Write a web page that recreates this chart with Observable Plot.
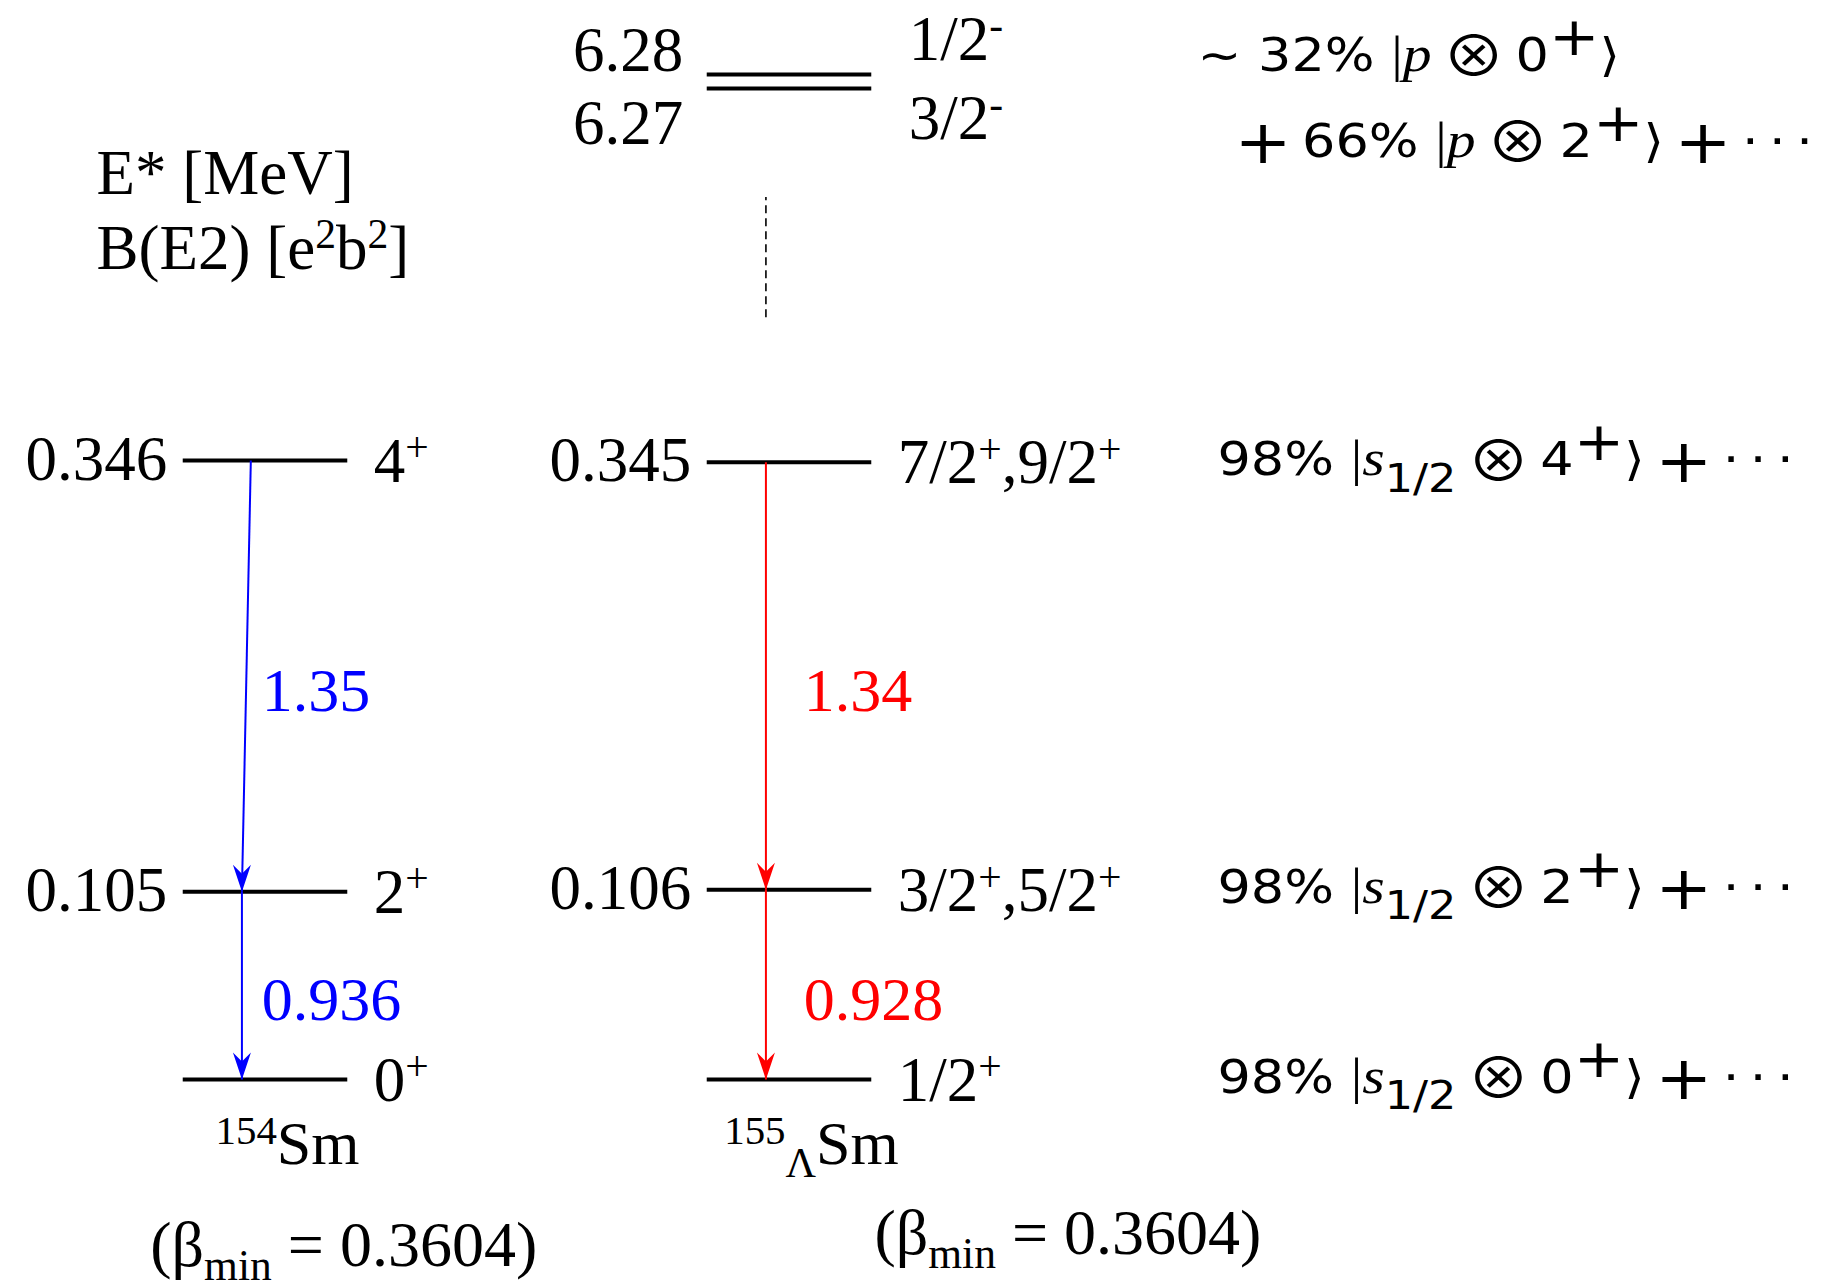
<!DOCTYPE html>
<html>
<head>
<meta charset="utf-8">
<script src="https://cdn.jsdelivr.net/npm/d3@7"></script>
<script src="https://cdn.jsdelivr.net/npm/@observablehq/plot@0.6"></script>
<style>
  body { margin: 0; background: #fff; }
  svg text { white-space: pre; }
</style>
</head>
<body>
<div id="chart"></div>
<script>
// ---------------- data ----------------
const nucleusLabels = ["^{154}Sm", "^{155}_{Λ}Sm"];
const betaMin = ["0.3604", "0.3604"];
const levelNucleus = [0, 0, 0, 1, 1, 1, 1, 1];
const levelEnergy  = [0, 0.105, 0.346, 0, 0.106, 0.345, 6.27, 6.28];
const levelSpin    = ["0^{+}", "2^{+}", "4^{+}", "1/2^{+}", "3/2^{+},5/2^{+}", "7/2^{+},9/2^{+}", "3/2^{-}", "1/2^{-}"];
const levelConfig  = [null, null, null,
  "98% !{|}*{s}_{1/2}\u2009#{⊗}\u20090^{+}⟩\u2009#{+}\u2009·\u2009·\u2009·",
  "98% !{|}*{s}_{1/2}\u2009#{⊗}\u20092^{+}⟩\u2009#{+}\u2009·\u2009·\u2009·",
  "98% !{|}*{s}_{1/2}\u2009#{⊗}\u20094^{+}⟩\u2009#{+}\u2009·\u2009·\u2009·",
  "#{+}\u200966% !{|}*{p}\u2009#{⊗}\u20092^{+}⟩\u2009#{+}\u2009·\u2009·\u2009·",
  "∼ 32% !{|}*{p}\u2009#{⊗}\u20090^{+}⟩"];
const transFrom = [2, 1, 5, 4];
const transTo   = [1, 0, 4, 3];
const transBE2  = [1.35, 0.936, 1.34, 0.928];
const headerLines = ["E* [MeV]", "B(E2) [e^{2}b^{2}]"];

// ---------------- style / layout ----------------
const nucleusColor = ["#0000ff", "#ff0000"];
const hw = 0.157;            // half width of a level line (x units)
const arrowShift = -0.045;   // arrows sit left of the level centre
const arrowTopSlant = [0.017, 0, 0, 0];
const be2LabelShift = [0.038, 0.072];
const energyDy = {single: 19, upper: -4, lower: 55};
const energyDx = {single: -16, upper: -24, lower: -24};
const spinDy   = {single: 21, upper: -15, lower: 50};
const spinDx   = {single: 26, upper: 37, lower: 37};
const configDy = {single: 13, upper: -4, lower: 68};
const configDx = {single: -96, upper: -116, lower: -79};
const configStretch = 1.14;
const betaDx = [-0.22, 0.162];
const betaDy = [186, 174];
const serif = "Liberation Serif";
const sans = "DejaVu Sans";

// ---------------- derived ----------------
const levels = levelEnergy.map((E, i) => ({i, n: levelNucleus[i], E, spin: levelSpin[i], config: levelConfig[i]}));
levels.forEach(l => {
  const near = levels.filter(o => o !== l && o.n === l.n && Math.abs(o.E - l.E) < 0.05);
  l.pos = near.some(o => o.E < l.E) ? "upper" : near.some(o => o.E > l.E) ? "lower" : "single";
});
const trans = transFrom.map((f, k) => ({k, from: levels[f], to: levels[transTo[k]], be2: transBE2[k], n: levels[f].n}));

const lowTop = d3.max(levelEnergy.filter(e => e < 1));
const highBottom = d3.min(levelEnergy.filter(e => e > 1));
const highTop = d3.max(levelEnergy);
const breakNuclei = [...new Set(levels.filter(l => l.E > 1).map(l => l.n))];
const dashFrac = [0.384, 0.707];

const pos = ["single", "upper", "lower"];
const marks = [];

// level lines
marks.push(Plot.ruleY(levels, {y: "E", x1: d => d.n - hw, x2: d => d.n + hw, stroke: "black", strokeWidth: 4}));

// break indicator
marks.push(Plot.ruleX(breakNuclei, {
  x: d => d + arrowShift,
  y1: () => lowTop + dashFrac[0] * (highBottom - lowTop),
  y2: () => lowTop + dashFrac[1] * (highBottom - lowTop),
  stroke: "black", strokeWidth: 1.6, strokeDasharray: "8,5"
}));

// labels per position group
for (const p of pos) {
  const grp = levels.filter(l => l.pos === p);
  marks.push(Plot.text(grp.filter(l => l.E > 0), {
    x: d => d.n - hw, y: "E", text: d => String(d.E),
    textAnchor: "end", lineAnchor: "bottom", dx: energyDx[p], dy: energyDy[p], fontSize: 63, fill: "black"
  }));
  marks.push(Plot.text(grp, {
    x: d => d.n + hw, y: "E", text: "spin",
    textAnchor: "start", lineAnchor: "bottom", dx: spinDx[p], dy: spinDy[p], fontSize: 63, fill: "black"
  }));
  marks.push(Plot.text(grp.filter(l => l.config), {
    x: () => 2, y: "E", text: "config",
    textAnchor: "start", lineAnchor: "bottom", dx: configDx[p], dy: configDy[p],
    fontSize: 46, fontFamily: sans, fill: "black"
  }));
}

// transitions
const arrowHead = {
  draw(ctx) {
    ctx.moveTo(0, 0);
    ctx.lineTo(-9, -27);
    ctx.lineTo(0, -18);
    ctx.lineTo(9, -27);
    ctx.closePath();
  }
};
marks.push(Plot.link(trans, {
  x1: d => d.n + arrowShift + arrowTopSlant[d.k], y1: d => d.from.E,
  x2: d => d.n + arrowShift, y2: d => d.to.E,
  stroke: d => nucleusColor[d.n], strokeWidth: 2
}));
marks.push(Plot.dot(trans, {
  x: d => d.n + arrowShift, y: d => d.to.E, symbol: arrowHead,
  fill: d => nucleusColor[d.n], stroke: "none"
}));
marks.push(Plot.text(trans, {
  x: d => d.n + arrowShift + be2LabelShift[d.n], y: d => (d.from.E + d.to.E) / 2,
  text: d => String(d.be2), fill: d => nucleusColor[d.n],
  textAnchor: "start", lineAnchor: "middle", dy: 15, fontSize: 62
}));

// nucleus names and deformation
const nucl = nucleusLabels.map((t, n) => ({t, n}));
marks.push(Plot.text(nucl, {
  x: d => d.n + 0.042, y: () => 0, text: "t",
  textAnchor: "middle", lineAnchor: "bottom", dy: 84, fontSize: 62, fill: "black"
}));
nucl.forEach(d => {
  marks.push(Plot.text([d], {
    x: d => d.n + betaDx[d.n], y: () => 0, text: d => `(β_{min} = ${betaMin[d.n]})`,
    textAnchor: "start", lineAnchor: "bottom", dy: betaDy[d.n], fontSize: 64, fill: "black"
  }));
});

// header
marks.push(Plot.text([headerLines[0]], {frameAnchor: "top-left", text: d => d, textAnchor: "start", lineAnchor: "bottom", dx: 96, dy: 193, fontSize: 63, fill: "black"}));
marks.push(Plot.text([headerLines[1]], {frameAnchor: "top-left", text: d => d, textAnchor: "start", lineAnchor: "bottom", dx: 96, dy: 268, fontSize: 63, fill: "black"}));

const chart = Plot.plot({
  width: 1822,
  height: 1282,
  margin: 0,
  style: {fontFamily: serif, background: "white"},
  x: {type: "linear", domain: [0, 1], range: [265, 789], axis: null},
  y: {type: "linear", domain: [0, lowTop, highBottom, highTop], range: [1079, 460, 88, 74], axis: null},
  color: {type: "identity"},
  marks
});
document.getElementById("chart").appendChild(chart);

// rich text: ^{sup}, _{sub}, *{italic serif}, !{upright serif}, #{math operator}
function richify(svg) {
  const NS = "http://www.w3.org/2000/svg";
  svg.querySelectorAll("text").forEach(t => {
    const s = t.textContent;
    if (!/[\^_*!#]\{/.test(s)) return;
    const cs = getComputedStyle(t);
    const fs = parseFloat(cs.fontSize);
    const isSans = /Sans/.test(cs.fontFamily);
    const P = isSans ? {supSize: 1.15, supShift: 0.34, subSize: 0.85, subShift: 0.36}
                     : {supSize: 0.66, supShift: 0.32, subSize: 0.68, subShift: 0.22};
    t.textContent = "";
    let shift = 0;
    const re = /([\^_*!#])\{([^}]*)\}|([^\^_*!#]+|[\^_*!#])/g;
    let m;
    while ((m = re.exec(s))) {
      const ts = document.createElementNS(NS, "tspan");
      let target = 0, txt = m[3];
      if (m[1]) {
        txt = m[2];
        if (m[1] === "^") { target = -P.supShift * fs; ts.setAttribute("font-size", P.supSize * fs); }
        else if (m[1] === "_") { target = P.subShift * fs; ts.setAttribute("font-size", P.subSize * fs); }
        else if (m[1] === "*") { ts.setAttribute("font-family", serif); ts.setAttribute("font-style", "italic"); ts.setAttribute("font-size", 1.1 * fs); }
        else if (m[1] === "!") { ts.setAttribute("font-family", serif); ts.setAttribute("font-size", 1.1 * fs); }
        else if (txt === "+") { target = 0.14 * fs; ts.setAttribute("font-size", 1.3 * fs); }
        else { target = 0.12 * fs; ts.setAttribute("font-size", 1.2 * fs); ts.setAttribute("font-family", "Noto Sans CJK JP, DejaVu Sans"); }
      }
      if (target !== shift) ts.setAttribute("dy", target - shift);
      shift = target;
      ts.textContent = txt;
      t.appendChild(ts);
    }
    if (isSans) {
      const tr = t.getAttribute("transform") || "";
      t.setAttribute("transform", `${tr} scale(${configStretch},1)`);
    }
  });
}
richify(chart);
</script>
</body>
</html>
